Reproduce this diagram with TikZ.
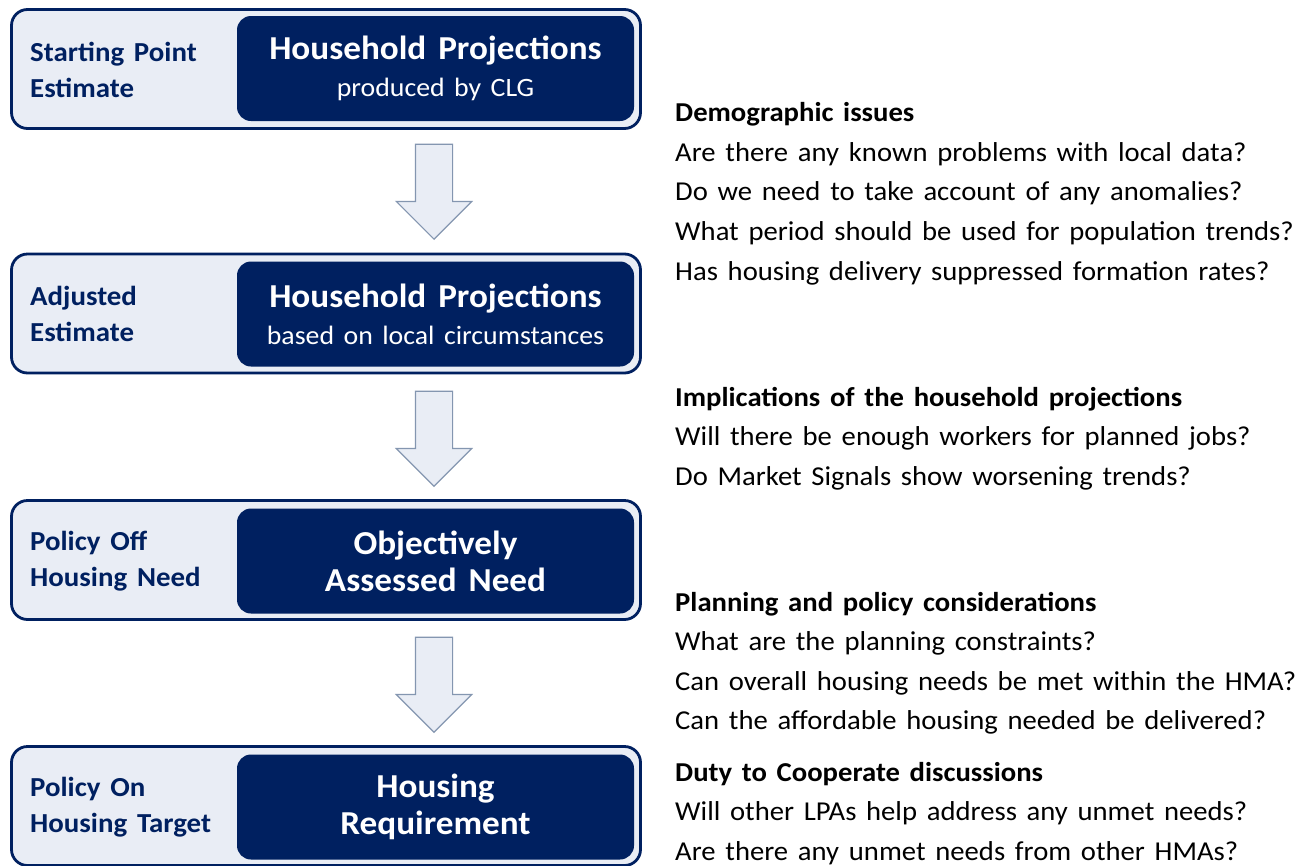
\documentclass[tikz,border=0pt]{standalone}
\usepackage{fontspec}
\setmainfont{Carlito}[FakeStretch=1.05,WordSpace=1.5]
\usetikzlibrary{shapes.arrows,positioning}
\definecolor{navy}{HTML}{002060}
\definecolor{paleblue}{HTML}{E9EDF5}
\definecolor{arrowline}{HTML}{8496B0}

\begin{document}
\begin{tikzpicture}
  [x=1pt,y=-1pt,
   outer/.style={draw=navy,line width=2.8pt,fill=paleblue,rounded corners=16pt,minimum width=629pt,minimum height=119pt,inner sep=0},
   inner/.style={fill=navy,rounded corners=14pt,minimum width=397pt,minimum height=105pt,text=white,align=center,inner sep=0,font=\fontsize{33.5}{37}\selectfont\bfseries},
   stage/.style={text=navy,font=\fontsize{27.5}{36}\selectfont\bfseries,align=left,anchor=west,inner sep=0},
   downarrow/.style={single arrow,draw=arrowline,line width=1.2pt,fill=paleblue,minimum height=95pt,minimum width=74pt,inner xsep=0,inner ysep=18pt,single arrow head extend=19pt,single arrow tip angle=90,rotate=-90,anchor=tip},
   head/.style={font=\fontsize{27.3}{30}\selectfont\bfseries,anchor=base west,inner sep=0},
   ask/.style={font=\fontsize{27.3}{30}\selectfont,anchor=base west,inner sep=0}]
  \fill[white] (0,0) rectangle (1308,865);
  \useasboundingbox (0,0) rectangle (1308,865);

  % stages
  \node[outer] (box1) at (326,69) {};
  \node[outer] (box2) at (326,313.5) {};
  \node[outer] (box3) at (326,560) {};
  \node[outer] (box4) at (326,806) {};

  \node[inner] (proj1) at (435.5,68.5) {Household Projections\\{\mdseries\fontsize{26.5}{37}\selectfont produced by CLG}};
  \node[inner] (proj2) at (435.5,314) {Household Projections\\{\mdseries\fontsize{26.5}{37}\selectfont based on local circumstances}};
  \node[inner] (oan) at (435.5,561) {Objectively\\Assessed Need};
  \node[inner] (req) at (435.5,807) {Housing\\Requirement};

  \node[stage] (lab1) at (30,70) {Starting Point\\Estimate};
  \node[stage] (lab2) at (30,314) {Adjusted\\Estimate};
  \node[stage] (lab3) at (30,561) {Policy Off\\Housing Need};
  \node[stage] (lab4) at (30,807) {Policy On\\Housing Target};

  % block arrows between stages (placed by their tips)
  \node[downarrow] (a1) at (434,240) {};
  \node[downarrow] (a2) at (434,487) {};
  \node[downarrow] (a3) at (434,733) {};

  % questions
  \node[head] (h1) at (675,121) {Demographic issues};
  \foreach \y/\t [count=\i] in {161/Are there any known problems with local data?,
      200/Do we need to take account of any anomalies?,
      240/What period should be used for population trends?,
      280/Has housing delivery suppressed formation rates?}
    \node[ask] (q1\i) at (675,\y) {\t};

  \node[head] (h2) at (675,406) {Implications of the household projections};
  \foreach \y/\t [count=\i] in {445/Will there be enough workers for planned jobs?,
      485/Do Market Signals show worsening trends?}
    \node[ask] (q2\i) at (675,\y) {\t};

  \node[head] (h3) at (675,611) {Planning and policy considerations};
  \foreach \y/\t [count=\i] in {650/What are the planning constraints?,
      690/Can overall housing needs be met within the HMA?,
      729/Can the affordable housing needed be delivered?}
    \node[ask] (q3\i) at (675,\y) {\t};

  \node[head] (h4) at (675,781) {Duty to Cooperate discussions};
  \foreach \y/\t [count=\i] in {820/Will other LPAs help address any unmet needs?,
      860/Are there any unmet needs from other HMAs?}
    \node[ask] (q4\i) at (675,\y) {\t};
\end{tikzpicture}
\end{document}
